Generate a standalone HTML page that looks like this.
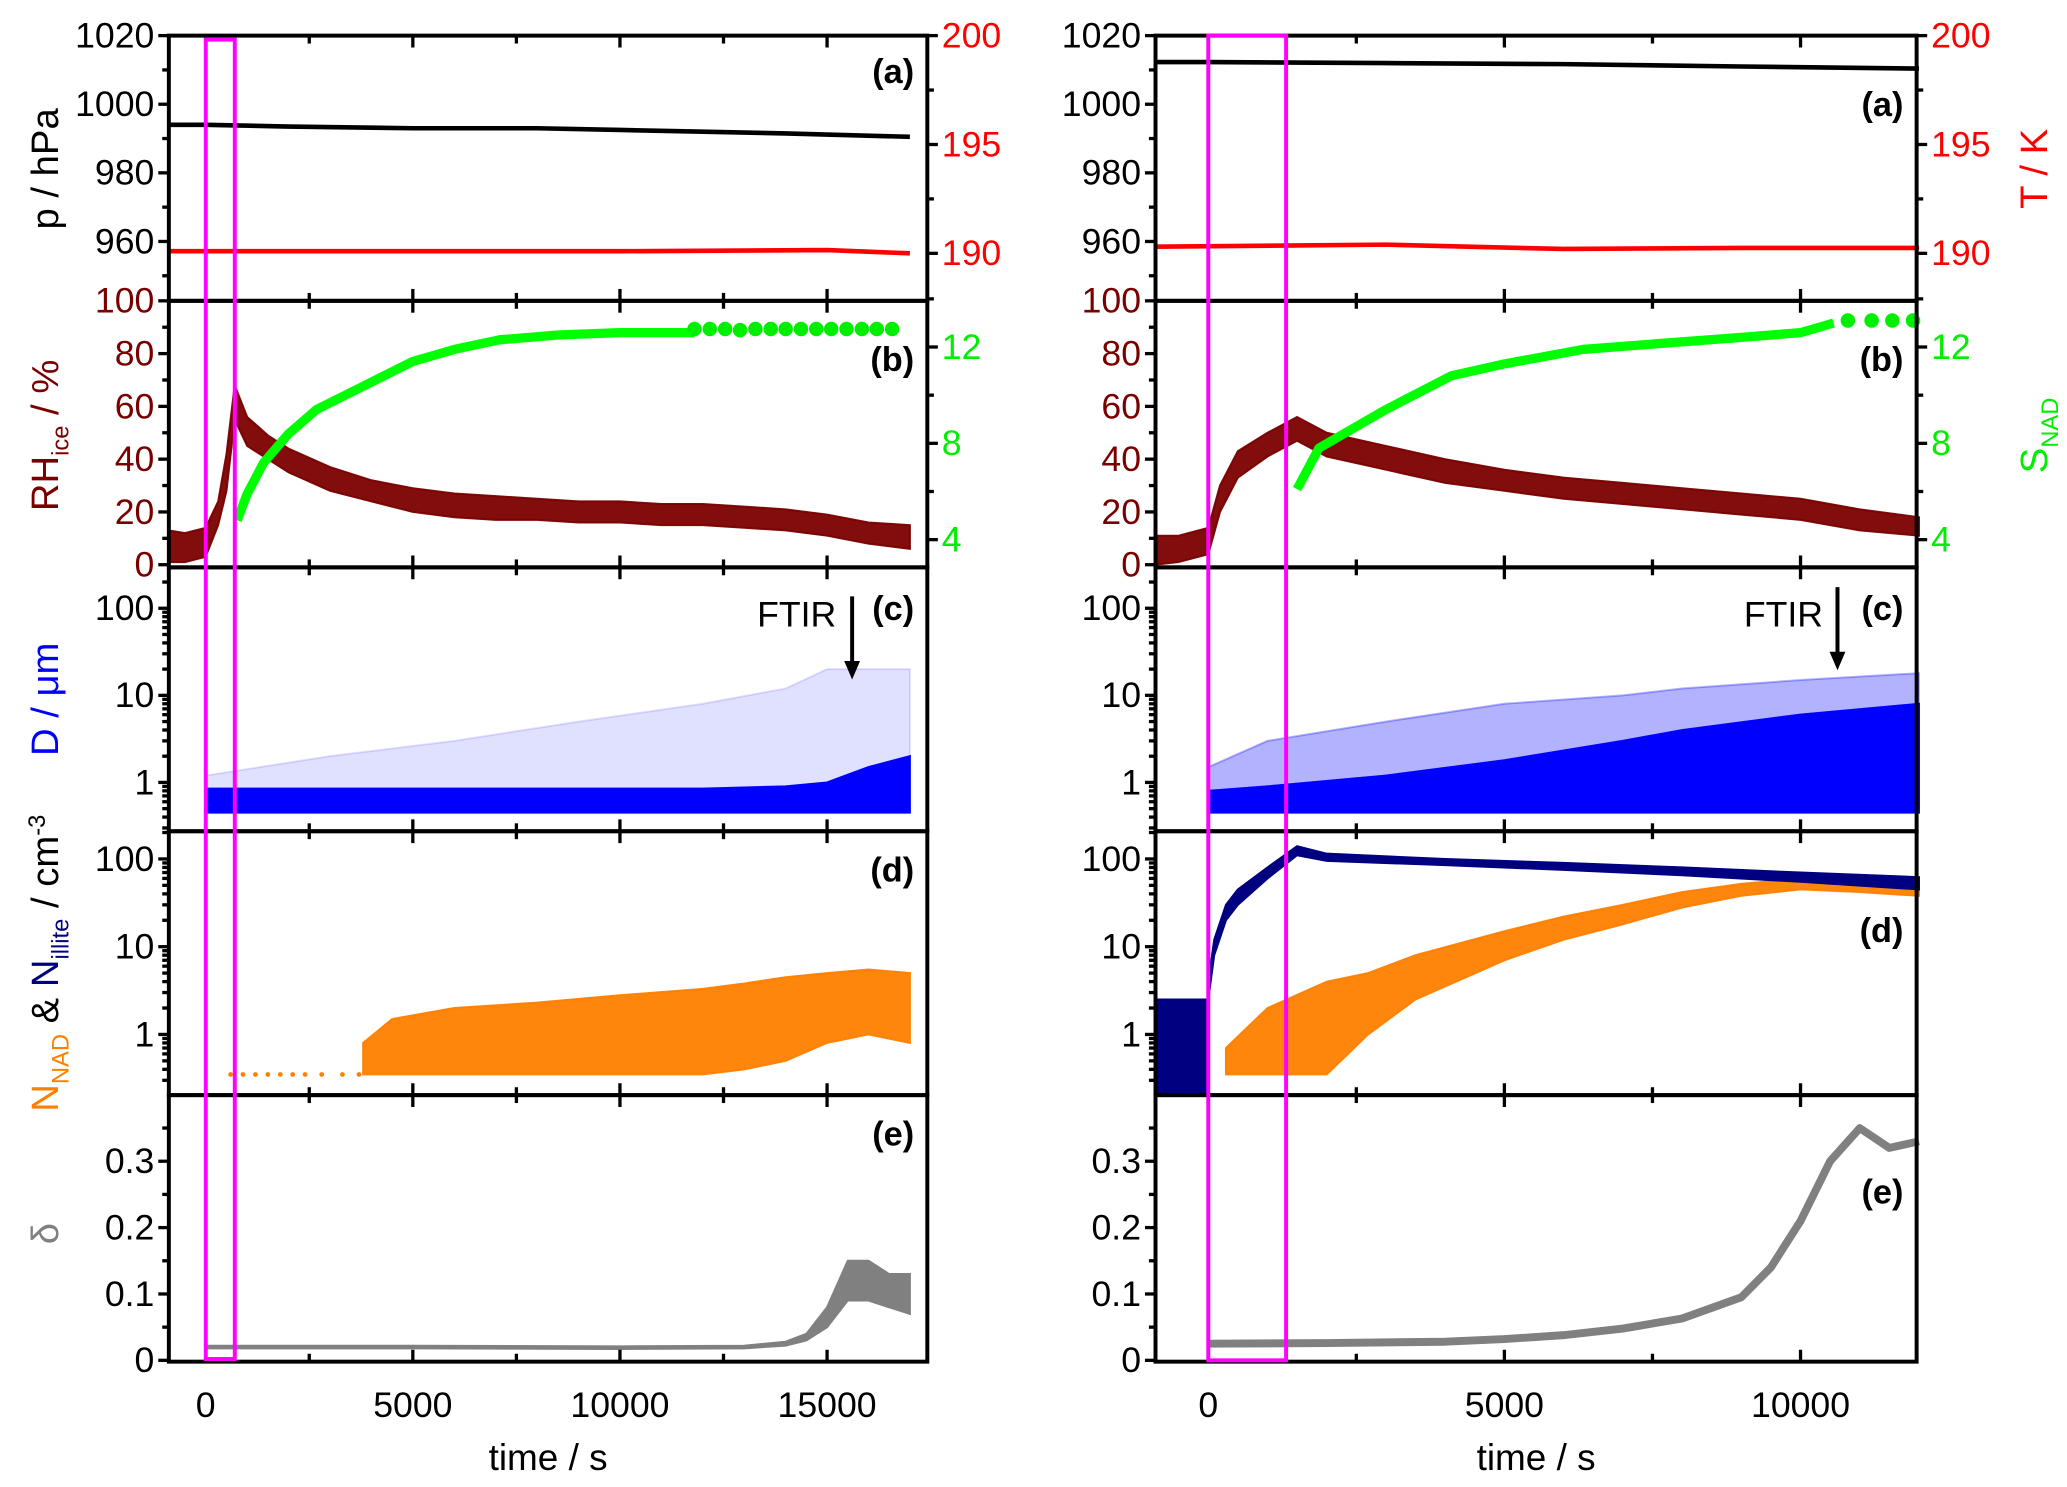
<!DOCTYPE html>
<html><head><meta charset="utf-8"><style>
html,body{margin:0;padding:0;background:#fff;}
svg{display:block;font-family:"Liberation Sans",Arial,sans-serif;}
</style></head><body>
<svg id="fig" width="2067" height="1487" viewBox="0 0 1567 1127" preserveAspectRatio="none" xmlns="http://www.w3.org/2000/svg"></svg>
<script>
// ---- data (time in s) ----
// Left experiment
const L_p_t=[-900,0,2000,5000,8000,10000,12000,14000,17000];
const L_p_v=[994,994,993.5,993,993,992.5,992,991.5,990.5];
const L_T_t=[-900,5000,10000,15000,17000];
const L_T_v=[190.1,190.1,190.1,190.15,190.0];
const L_rh_t=[-900,-500,0,300,500,700,1000,1500,2000,3000,4000,5000,6000,7000,8000,9000,10000,11000,12000,13000,14000,15000,16000,17000];
const L_rh_lo=[1,1,3,15,28,55,45,40,35,28,24,20,18,17,17,16,16,15,15,14,13,11,8,6];
const L_rh_hi=[13,12,14,24,42,68,56,49,44,37,32,29,27,26,25,24,24,23,23,22,21,19,16,15];
const L_S_t=[760,1000,1400,2000,2675,3950,5000,6000,7100,8500,10000,11800];
const L_S_v=[4.8,5.9,7.2,8.4,9.4,10.5,11.4,11.9,12.3,12.5,12.6,12.6];
const L_Sdot_t=[11800,12170,12540,12900,13270,13640,14000,14370,14740,15100,15470,15840,16200,16570];
const L_Sdot_v=[12.75,12.75,12.75,12.7,12.75,12.75,12.75,12.75,12.75,12.75,12.75,12.75,12.75,12.75];
const L_D_t=[0,3000,6000,9000,12000,14000,15000,16000,17000];
const L_D_lo=[0.45,0.45,0.45,0.45,0.45,0.45,0.45,0.45,0.45];
const L_D_hi=[0.85,0.85,0.85,0.85,0.85,0.9,1.0,1.5,2];
const L_D_sp=[1.2,2,3,5,8,12,20,20,20];
const L_N_t=[3800,4500,6000,8000,10000,12000,13000,14000,15000,16000,17000];
const L_N_lo=[0.35,0.35,0.35,0.35,0.35,0.35,0.4,0.5,0.8,1,0.8];
const L_N_hi=[0.8,1.5,2,2.3,2.8,3.3,3.8,4.5,5,5.5,5];
const L_Ndot_t=[600,900,1200,1500,1800,2100,2400,2800,3300,3700];
const L_Ndot_v=[0.35,0.35,0.35,0.35,0.35,0.35,0.35,0.35,0.35,0.35];
const L_d_t=[0,5000,10000,13000,14000,14500,15000,15500,16000,16500,17000];
const L_d_lo=[0.018,0.018,0.017,0.018,0.022,0.03,0.05,0.09,0.09,0.08,0.07];
const L_d_hi=[0.022,0.022,0.021,0.022,0.028,0.04,0.08,0.15,0.15,0.13,0.13];
// Right experiment
const R_p_t=[-900,0,3000,6000,9000,12000];
const R_p_v=[1012.3,1012.3,1012,1011.7,1011,1010.4];
const R_T_t=[-900,3000,6000,9000,12000];
const R_T_v=[190.3,190.4,190.2,190.25,190.25];
const R_rh_t=[-900,-500,0,200,500,1000,1500,2000,3000,4000,5000,6000,7000,8000,9000,10000,11000,12000];
const R_rh_lo=[0,1,4,20,33,41,47,41,36,31,28,25,23,21,19,17,13,11];
const R_rh_hi=[11,11,14,30,43,50,56,50,45,40,36,33,31,29,27,25,21,18];
const R_S_t=[1500,1870,3000,4100,5000,6330,7900,9000,10000,10560];
const R_S_v=[6.1,7.8,9.4,10.8,11.3,11.9,12.2,12.4,12.6,13.0];
const R_Sdot_t=[10800,11200,11550,11900];
const R_Sdot_v=[13.1,13.1,13.1,13.1];
const R_D_t=[0,1000,3000,5000,7000,8000,10000,12000];
const R_D_lo=[0.45,0.45,0.45,0.45,0.45,0.45,0.45,0.45];
const R_D_hi=[0.8,0.9,1.2,1.8,3,4,6,8];
const R_D_sp=[1.5,3,5,8,10,12,15,18];
const R_Ni_t=[-900,-10,0,100,300,500,1000,1500,2000,4000,6000,8000,10000,12000];
const R_Ni_lo=[0.2,0.2,2.5,8,20,30,60,110,95,85,75,65,55,45];
const R_Ni_hi=[2.5,2.5,4,12,30,45,80,140,115,100,90,80,70,62];
const R_N_t=[300,1000,2000,2700,3500,5000,6000,7000,8000,9000,10000,11000,12000];
const R_N_lo=[0.35,0.35,0.35,1,2.5,7,12,18,28,38,45,42,38];
const R_N_hi=[0.7,2,4,5,8,15,22,30,42,52,60,58,52];
const R_d_t=[0,2000,4000,5000,6000,7000,8000,9000,9500,10000,10500,11000,11500,12000];
const R_d_v=[0.025,0.026,0.028,0.032,0.038,0.048,0.063,0.095,0.14,0.21,0.3,0.35,0.32,0.33];
const xTicks=[0,5000,10000,15000];

// ---- layout ----
const svg=document.getElementById('fig');
const NS='http://www.w3.org/2000/svg';
function el(tag,attrs,parent,text){const e=document.createElementNS(NS,tag);for(const k in attrs)e.setAttribute(k,attrs[k]);if(text!==undefined)e.textContent=text;(parent||svg).appendChild(e);return e;}
const PY=[27,228,430,630,830,1032];
const sides={
 L:{x0:128,x1:703,tmin:-890,tmax:17420,max:17000},
 R:{x0:876,x1:1453,tmin:-890,tmax:11960,max:12000}
};
function X(s,t){const a=sides[s];return a.x0+(t-a.tmin)/(a.tmax-a.tmin)*(a.x1-a.x0);}
const Y={
 p:v=>27+(1020-v)/20*52,
 T:v=>27+(200-v)/5*82.5,
 rh:v=>428-v*2,
 S:v=>409-(v-4)/4*73,
 D:v=>593-Math.log10(v)*66,
 N:v=>784-Math.log10(v)*66.5,
 d:v=>1031-v*503
};
function clipY(y,i){return Math.max(PY[i],Math.min(PY[i+1],y));}
function line(s,T,V,fy,pi,color,w,name){
 const pts=T.map((t,i)=>X(s,t).toFixed(1)+','+clipY(fy(V[i]),pi).toFixed(1)).join(' ');
 const e=el('polyline',{points:pts,fill:'none',stroke:color,'stroke-width':w,'stroke-linejoin':'round'});
 
 
}
function band(s,T,LO,HI,fy,pi,color,op,name){
 const a=T.map((t,i)=>X(s,t).toFixed(1)+','+clipY(fy(HI[i]),pi).toFixed(1));
 const b=T.map((t,i)=>X(s,t).toFixed(1)+','+clipY(fy(LO[i]),pi).toFixed(1)).reverse();
 const e=el('polygon',{points:a.concat(b).join(' '),fill:color,'fill-opacity':op,stroke:color,'stroke-width':1.5,'stroke-opacity':op});
 
 
}
function dots(s,T,V,fy,r,color,name){
 T.forEach((t,i)=>{const c=el('circle',{cx:X(s,t),cy:fy(V[i]),r:r,fill:color});
 
 });
}
function txt(x,y,s,attrs,name){const e=el('text',Object.assign({x:x,y:y,'font-size':26},attrs||{}),svg,s);
 
 return e;}

// ---- series ----
['L','R'].forEach(s=>{
 const D=s==='L'?{p_t:L_p_t,p_v:L_p_v,T_t:L_T_t,T_v:L_T_v,rh_t:L_rh_t,rh_lo:L_rh_lo,rh_hi:L_rh_hi,S_t:L_S_t,S_v:L_S_v,Sd_t:L_Sdot_t,Sd_v:L_Sdot_v,D_t:L_D_t,D_lo:L_D_lo,D_hi:L_D_hi,D_sp:L_D_sp}
 :{p_t:R_p_t,p_v:R_p_v,T_t:R_T_t,T_v:R_T_v,rh_t:R_rh_t,rh_lo:R_rh_lo,rh_hi:R_rh_hi,S_t:R_S_t,S_v:R_S_v,Sd_t:R_Sdot_t,Sd_v:R_Sdot_v,D_t:R_D_t,D_lo:R_D_lo,D_hi:R_D_hi,D_sp:R_D_sp};
 line(s,D.p_t,D.p_v,Y.p,0,'#000',3.5,'pressure-line');
 line(s,D.T_t,D.T_v,Y.T,0,'#ff0000',3.5,'temperature-line');
 band(s,D.rh_t,D.rh_lo,D.rh_hi,Y.rh,1,'#7a0000',0.95,'rh-ice-band');
 line(s,D.S_t,D.S_v,Y.S,1,'#00ff00',7,'s-nad-line');
 dots(s,D.Sd_t,D.Sd_v,Y.S,5.5,'#00ee00','s-nad-dot');
 band(s,D.D_t,D.D_hi,D.D_sp,Y.D,2,'#0000ff',s==='L'?0.12:0.3,'diameter-sparse-band');
 band(s,D.D_t,D.D_lo,D.D_hi,Y.D,2,'#0000ff',1,'diameter-dense-band');
});
band('L',L_N_t,L_N_lo,L_N_hi,Y.N,3,'#ff8000',0.95,'n-nad-band');
dots('L',L_Ndot_t,L_Ndot_v,Y.N,1.8,'#ff8000','n-nad-dot');
band('L',L_d_t,L_d_lo,L_d_hi,Y.d,4,'#808080',1,'delta-band');
band('R',R_N_t,R_N_lo,R_N_hi,Y.N,3,'#ff8000',0.95,'n-nad-band');
band('R',R_Ni_t,R_Ni_lo,R_Ni_hi,Y.N,3,'#000080',1,'n-illite-band');
line('R',R_d_t,R_d_v,Y.d,4,'#808080',6,'delta-line');

// ---- frames & ticks ----
['L','R'].forEach(s=>{
 const a=sides[s];
 for(let i=0;i<5;i++){
  const r=el('rect',{x:a.x0,y:PY[i],width:a.x1-a.x0,height:PY[i+1]-PY[i],fill:'none',stroke:'#000','stroke-width':3});
  
  
  for(let t=0;t<=a.max;t+=2500){const x=X(s,t);
   el('line',{x1:x,x2:x,y1:PY[i],y2:PY[i]+(t%5000?6:9),stroke:'#000','stroke-width':2.5});
   el('line',{x1:x,x2:x,y1:PY[i+1],y2:PY[i+1]-(t%5000?6:9),stroke:'#000','stroke-width':2.5});}
 }
 xTicks.filter(t=>t<=a.max).forEach(t=>txt(X(s,t),1074,String(t),{'text-anchor':'middle','font-size':27},'x-tick-label'));
 txt((a.x0+a.x1)/2,1114,'time / s',{'text-anchor':'middle','font-size':28},'x-axis-title');
 const yt=(y,lab,col,side)=>{const x=side==='l'?a.x0:a.x1;const d=side==='l'?-8:8;
  el('line',{x1:x,x2:x+d,y1:y,y2:y,stroke:'#000','stroke-width':2.5});
  if(lab!==null)txt(x+(side==='l'?-11:11),y+9,lab,{'text-anchor':side==='l'?'end':'start',fill:col,'font-size':27},'y-tick-label');};
 const mt=(y,side)=>{const x=side==='l'?a.x0:a.x1;el('line',{x1:x,x2:x+(side==='l'?-5:5),y1:y,y2:y,stroke:'#000','stroke-width':2.5});};
 [1020,1000,980,960].forEach(v=>yt(Y.p(v),String(v),'#000','l'));
 [1010,990,970,950].forEach(v=>mt(Y.p(v),'l'));
 [200,195,190].forEach(v=>yt(Y.T(v),String(v),'#ff0000','r'));
 [197.5,192.5].forEach(v=>mt(Y.T(v),'r'));
 [100,80,60,40,20,0].forEach(v=>yt(Y.rh(v),String(v),'#7a0000','l'));
 [90,70,50,30,10].forEach(v=>mt(Y.rh(v),'l'));
 [12,8,4].forEach(v=>yt(Y.S(v),String(v),'#00ee00','r'));
 [14,10,6].forEach(v=>mt(Y.S(v),'r'));
 [100,10,1].forEach(v=>yt(Y.D(v),String(v),'#000','l'));
 [100,10,1].forEach(v=>yt(Y.N(v),String(v),'#000','l'));
 [0.3,0.4,0.5,0.6,0.7,0.8,0.9,2,3,4,5,6,7,8,9,20,30,40,50,60,70,80,90,200].forEach(v=>{
  if(Y.D(v)>PY[2])mt(Y.D(v),'l'); if(Y.N(v)>PY[3])mt(Y.N(v),'l');});
 [0.3,0.2,0.1,0].forEach(v=>yt(Y.d(v),String(v),'#000','l'));
 [0.35,0.25,0.15,0.05].forEach(v=>mt(Y.d(v),'l'));
 ['(a)','(b)','(c)','(d)','(e)'].forEach((l,i)=>{
  const yy=s==='L'?[63,281,470,668,868][i]:[88,281,470,714,912][i];
  txt(a.x1-10,yy,l,{'text-anchor':'end','font-weight':'bold','font-size':26},'panel-label');});
});
// magenta boxes
[[156,30,22,1000],[916,27,59,1004]].forEach(b=>{const r=el('rect',{x:b[0],y:b[1],width:b[2],height:b[3],fill:'none',stroke:'#ff00ff','stroke-width':3});
 
 });
// FTIR arrows
[[604,646,452,515],[1352,1393,445,508]].forEach(f=>{
 txt(f[0],475,'FTIR',{'text-anchor':'middle','font-size':27},'ftir-label');
 el('line',{x1:f[1],x2:f[1],y1:f[2],y2:f[3]-12,stroke:'#000','stroke-width':3});
 const p=el('polygon',{points:`${f[1]-6},${f[3]-14} ${f[1]+6},${f[3]-14} ${f[1]},${f[3]}`,fill:'#000'});
 
 });
// axis titles
function vt(x,y,html,name){const g=el('text',{transform:`translate(${x},${y}) rotate(-90)`,'text-anchor':'middle','font-size':29},svg);
 
 g.innerHTML=html;}
vt(44,128,'p / hPa','y-title-pressure');
vt(44,330,'<tspan fill="#7a0000">RH</tspan><tspan fill="#7a0000" font-size="18" dy="8">ice</tspan><tspan fill="#7a0000" dy="-8"> / %</tspan>','y-title-rh');
vt(44,530,'<tspan fill="#0000ff">D / μm</tspan>','y-title-diameter');
vt(44,730,'<tspan fill="#ff8000">N</tspan><tspan fill="#ff8000" font-size="18" dy="8">NAD</tspan><tspan dy="-8"> &amp; </tspan><tspan fill="#000080">N</tspan><tspan fill="#000080" font-size="18" dy="8">illite</tspan><tspan dy="-8"> / cm</tspan><tspan font-size="18" dy="-10">-3</tspan>','y-title-number');
vt(44,935,'<tspan fill="#808080">δ</tspan>','y-title-delta');
vt(1552,128,'<tspan fill="#ff0000">T / K</tspan>','y-title-temperature');
vt(1552,330,'<tspan fill="#00ee00">S</tspan><tspan fill="#00ee00" font-size="18" dy="8">NAD</tspan>','y-title-s-nad');
</script>
</body></html>
